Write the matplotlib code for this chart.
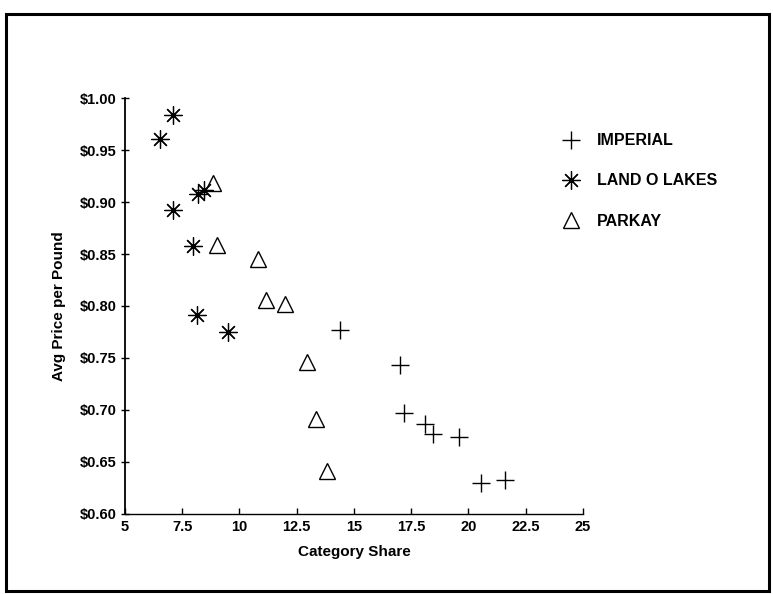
import matplotlib.pyplot as plt
from matplotlib.patches import Rectangle
from matplotlib.ticker import FuncFormatter

plt.rcParams['font.family'] = ['Liberation Sans', 'DejaVu Sans']
plt.rcParams['font.weight'] = 'bold'

# 데이터
imperial_share = [14.4, 17.0, 17.2, 18.1, 18.45, 19.6, 20.55, 21.6]
imperial_price = [0.777, 0.743, 0.697, 0.687, 0.677, 0.674, 0.630, 0.633]

lol_share = [7.1, 6.55, 7.1, 8.2, 8.45, 7.95, 8.15, 9.5]
lol_price = [0.984, 0.961, 0.892, 0.908, 0.912, 0.858, 0.791, 0.775]

parkay_share = [8.85, 9.0, 10.8, 11.15, 12.0, 12.95, 13.35, 13.8]
parkay_price = [0.918, 0.859, 0.845, 0.806, 0.802, 0.746, 0.691, 0.641]

x_ticks = [5, 7.5, 10, 12.5, 15, 17.5, 20, 22.5, 25]
x_tick_labels = ['5', '7.5', '10', '12.5', '15', '17.5', '20', '22.5', '25']
y_ticks = [0.60, 0.65, 0.70, 0.75, 0.80, 0.85, 0.90, 0.95, 1.00]

fig = plt.figure(figsize=(7.73, 5.94), dpi=100)
ax = fig.add_axes([0.1617, 0.1347, 0.5925, 0.7003])

# 바깥 테두리
fig.patches.append(Rectangle((0.008, 0.005), 0.987, 0.971, transform=fig.transFigure,
                             fill=False, edgecolor='black', linewidth=2.2))

ax.plot(imperial_share, imperial_price, linestyle='none', marker='+', markersize=13,
        markeredgewidth=1.0, color='black', label='IMPERIAL')
ax.plot(lol_share, lol_price, linestyle='none', marker=(8, 2, 0), markersize=13,
        markeredgewidth=0.9, color='black', label='LAND O LAKES')
ax.plot(parkay_share, parkay_price, linestyle='none', marker='^', markersize=12,
        markerfacecolor='none', markeredgewidth=1.0, color='black', label='PARKAY')

ax.set_xlim(5, 25)
ax.set_ylim(0.60, 1.00)
ax.set_xticks(x_ticks)
ax.set_xticklabels(x_tick_labels)
ax.set_yticks(y_ticks)
ax.yaxis.set_major_formatter(FuncFormatter(lambda v, p: f'${v:.2f}'))
ax.tick_params(axis='both', labelsize=10.5, length=4, width=1, colors='black', pad=3)
ax.tick_params(axis='y', direction='inout', length=6)
ax.tick_params(axis='x', direction='in', pad=4)

ax.spines['top'].set_visible(False)
ax.spines['right'].set_visible(False)
ax.spines['left'].set_linewidth(1.3)
ax.spines['bottom'].set_linewidth(1.0)

ax.set_xlabel('Category Share', fontsize=11, fontweight='bold', labelpad=8)
ax.set_ylabel('Avg Price per Pound', fontsize=11, fontweight='bold', labelpad=10)

ax.legend(loc='upper left', bbox_to_anchor=(0.708, 0.80), bbox_transform=fig.transFigure,
          frameon=False, labelspacing=1.58, handlelength=1.2,
          handletextpad=1.0, prop={'weight': 'bold', 'size': 11.5})

fig.savefig('out.png', dpi=100, facecolor='white')
